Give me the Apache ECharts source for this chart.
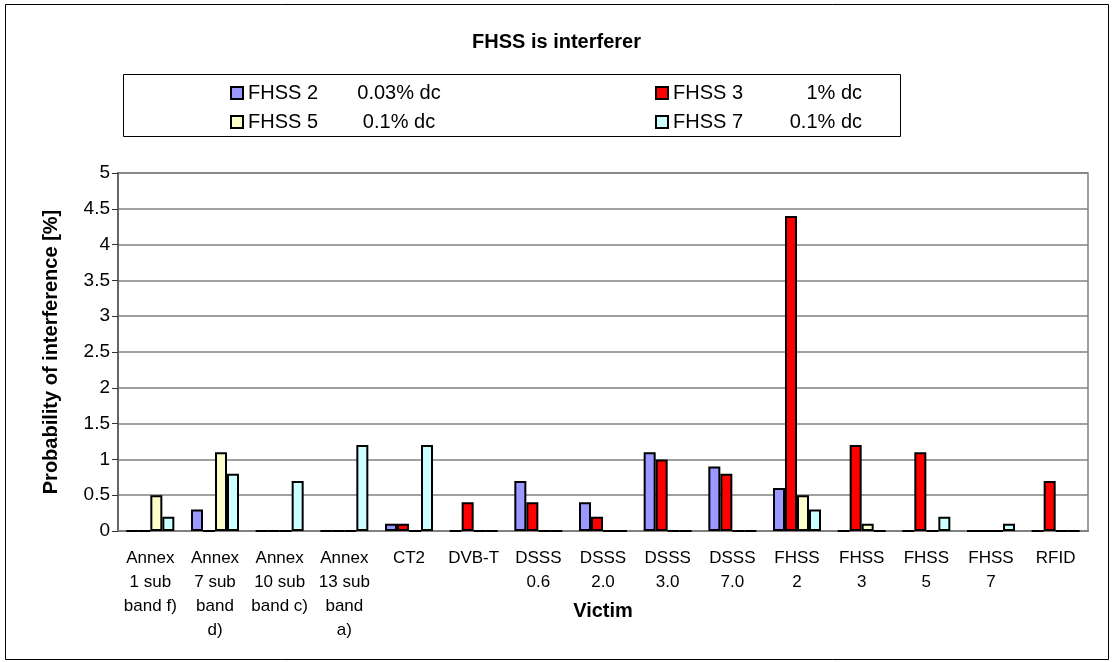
<!DOCTYPE html>
<html>
<head>
<meta charset="utf-8">
<script src="https://cdn.jsdelivr.net/npm/echarts@6/dist/echarts.min.js"></script>
<style>
  html, body { margin: 0; padding: 0; background: #fff; }
  #chart { width: 1113px; height: 662px; }
</style>
</head>
<body>
<div id="chart"></div>
<script>
// victims on the x axis
var categories = [
  "Annex\n1 sub\nband f)", "Annex\n7 sub\nband\nd)", "Annex\n10 sub\nband c)", "Annex\n13 sub\nband\na)",
  "CT2", "DVB-T", "DSSS\n0.6", "DSSS\n2.0", "DSSS\n3.0", "DSSS\n7.0",
  "FHSS\n2", "FHSS\n3", "FHSS\n5", "FHSS\n7", "RFID"
];
var fhss2 = [0, 0.3, 0, 0, 0.1, 0, 0.7, 0.4, 1.1, 0.9, 0.6, 0, 0, 0, 0];
var fhss3 = [0, 0, 0, 0, 0.1, 0.4, 0.4, 0.2, 1.0, 0.8, 4.4, 1.2, 1.1, 0, 0.7];
var fhss5 = [0.5, 1.1, 0, 0, 0, 0, 0, 0, 0, 0, 0.5, 0.1, 0, 0, 0];
var fhss7 = [0.2, 0.8, 0.7, 1.2, 1.2, 0, 0, 0, 0, 0, 0.3, 0, 0.2, 0.1, 0];
var yTicks = [0, 0.5, 1, 1.5, 2, 2.5, 3, 3.5, 4, 4.5, 5];

var font = "Liberation Sans, Arial, sans-serif";
var chart = echarts.init(document.getElementById("chart"));

// one legend per entry so each sits where it does in the original
function legendAt(name, dc, left, top, nameW, dcW, dcAlign) {
  return {
    data: [name],
    left: left,
    top: top,
    padding: 0,
    itemWidth: 12,
    itemHeight: 12,
    itemGap: 0,
    selectedMode: false,
    icon: "rect",
    formatter: function (n) { return "{n|" + n + "}{v|" + dc + "}"; },
    textStyle: {
      fontFamily: font,
      fontSize: 20,
      color: "#000",
      rich: {
        n: { width: nameW, fontSize: 20, fontFamily: font },
        v: { width: dcW, align: dcAlign, fontSize: 20, fontFamily: font }
      }
    }
  };
}

function bar(name, data, color) {
  return {
    name: name,
    type: "bar",
    data: data,
    barWidth: 12,
    barGap: "0%",
    itemStyle: { color: color, borderColor: "#000", borderWidth: 2 }
  };
}

chart.setOption({
  animation: false,
  backgroundColor: "#fff",
  title: {
    text: "FHSS is interferer",
    left: "center",
    top: 27,
    textStyle: { fontFamily: font, fontSize: 20, fontWeight: "bold", color: "#000" }
  },
  graphic: [
    { type: "rect", shape: { x: 5.5, y: 4.5, width: 1103, height: 655 },
      style: { fill: "none", stroke: "#000", lineWidth: 1 } },
    { type: "rect", shape: { x: 123.5, y: 74.5, width: 777, height: 62 },
      style: { fill: "none", stroke: "#000", lineWidth: 1 } }
  ],
  legend: [
    legendAt("FHSS 2", "0.03% dc", 230, 83, 105, 92, "center"),
    legendAt("FHSS 3", "1% dc", 655, 83, 101, 88, "right"),
    legendAt("FHSS 5", "0.1% dc", 230, 112, 105, 92, "center"),
    legendAt("FHSS 7", "0.1% dc", 655, 112, 101, 88, "right")
  ],
  grid: {
    left: 118, right: 25, top: 173, bottom: 131,
    outerBoundsMode: "none",
    show: true, borderColor: "#808080", borderWidth: 1.5
  },
  xAxis: {
    type: "category",
    data: categories,
    name: "Victim",
    nameLocation: "middle",
    nameGap: 70,
    nameMoveOverlap: false,
    nameTextStyle: { fontFamily: font, fontSize: 20, fontWeight: "bold", color: "#000" },
    axisLine: { lineStyle: { color: "#808080", width: 2 } },
    axisTick: { length: 6, lineStyle: { color: "#808080" } },
    axisLabel: {
      interval: 0, margin: 15, fontFamily: font, fontSize: 17, color: "#000",
      lineHeight: 24, verticalAlign: "top"
    }
  },
  yAxis: {
    type: "value",
    min: yTicks[0],
    max: yTicks[yTicks.length - 1],
    interval: 0.5,
    name: "Probability of interference [%]",
    nameLocation: "middle",
    nameGap: 57,
    nameMoveOverlap: false,
    nameTextStyle: { fontFamily: font, fontSize: 20, fontWeight: "bold", color: "#000" },
    axisLine: { show: true, lineStyle: { color: "#666", width: 2 } },
    axisTick: { show: true, length: 6, lineStyle: { color: "#333" } },
    axisLabel: { margin: 8, fontFamily: font, fontSize: 19, color: "#000" },
    splitLine: { lineStyle: { color: "#808080", width: 1.5 } }
  },
  series: [
    bar("FHSS 2", fhss2, "#9999FF"),
    bar("FHSS 3", fhss3, "#FF0000"),
    bar("FHSS 5", fhss5, "#FFFFCC"),
    bar("FHSS 7", fhss7, "#CCFFFF")
  ]
});
</script>
</body>
</html>
